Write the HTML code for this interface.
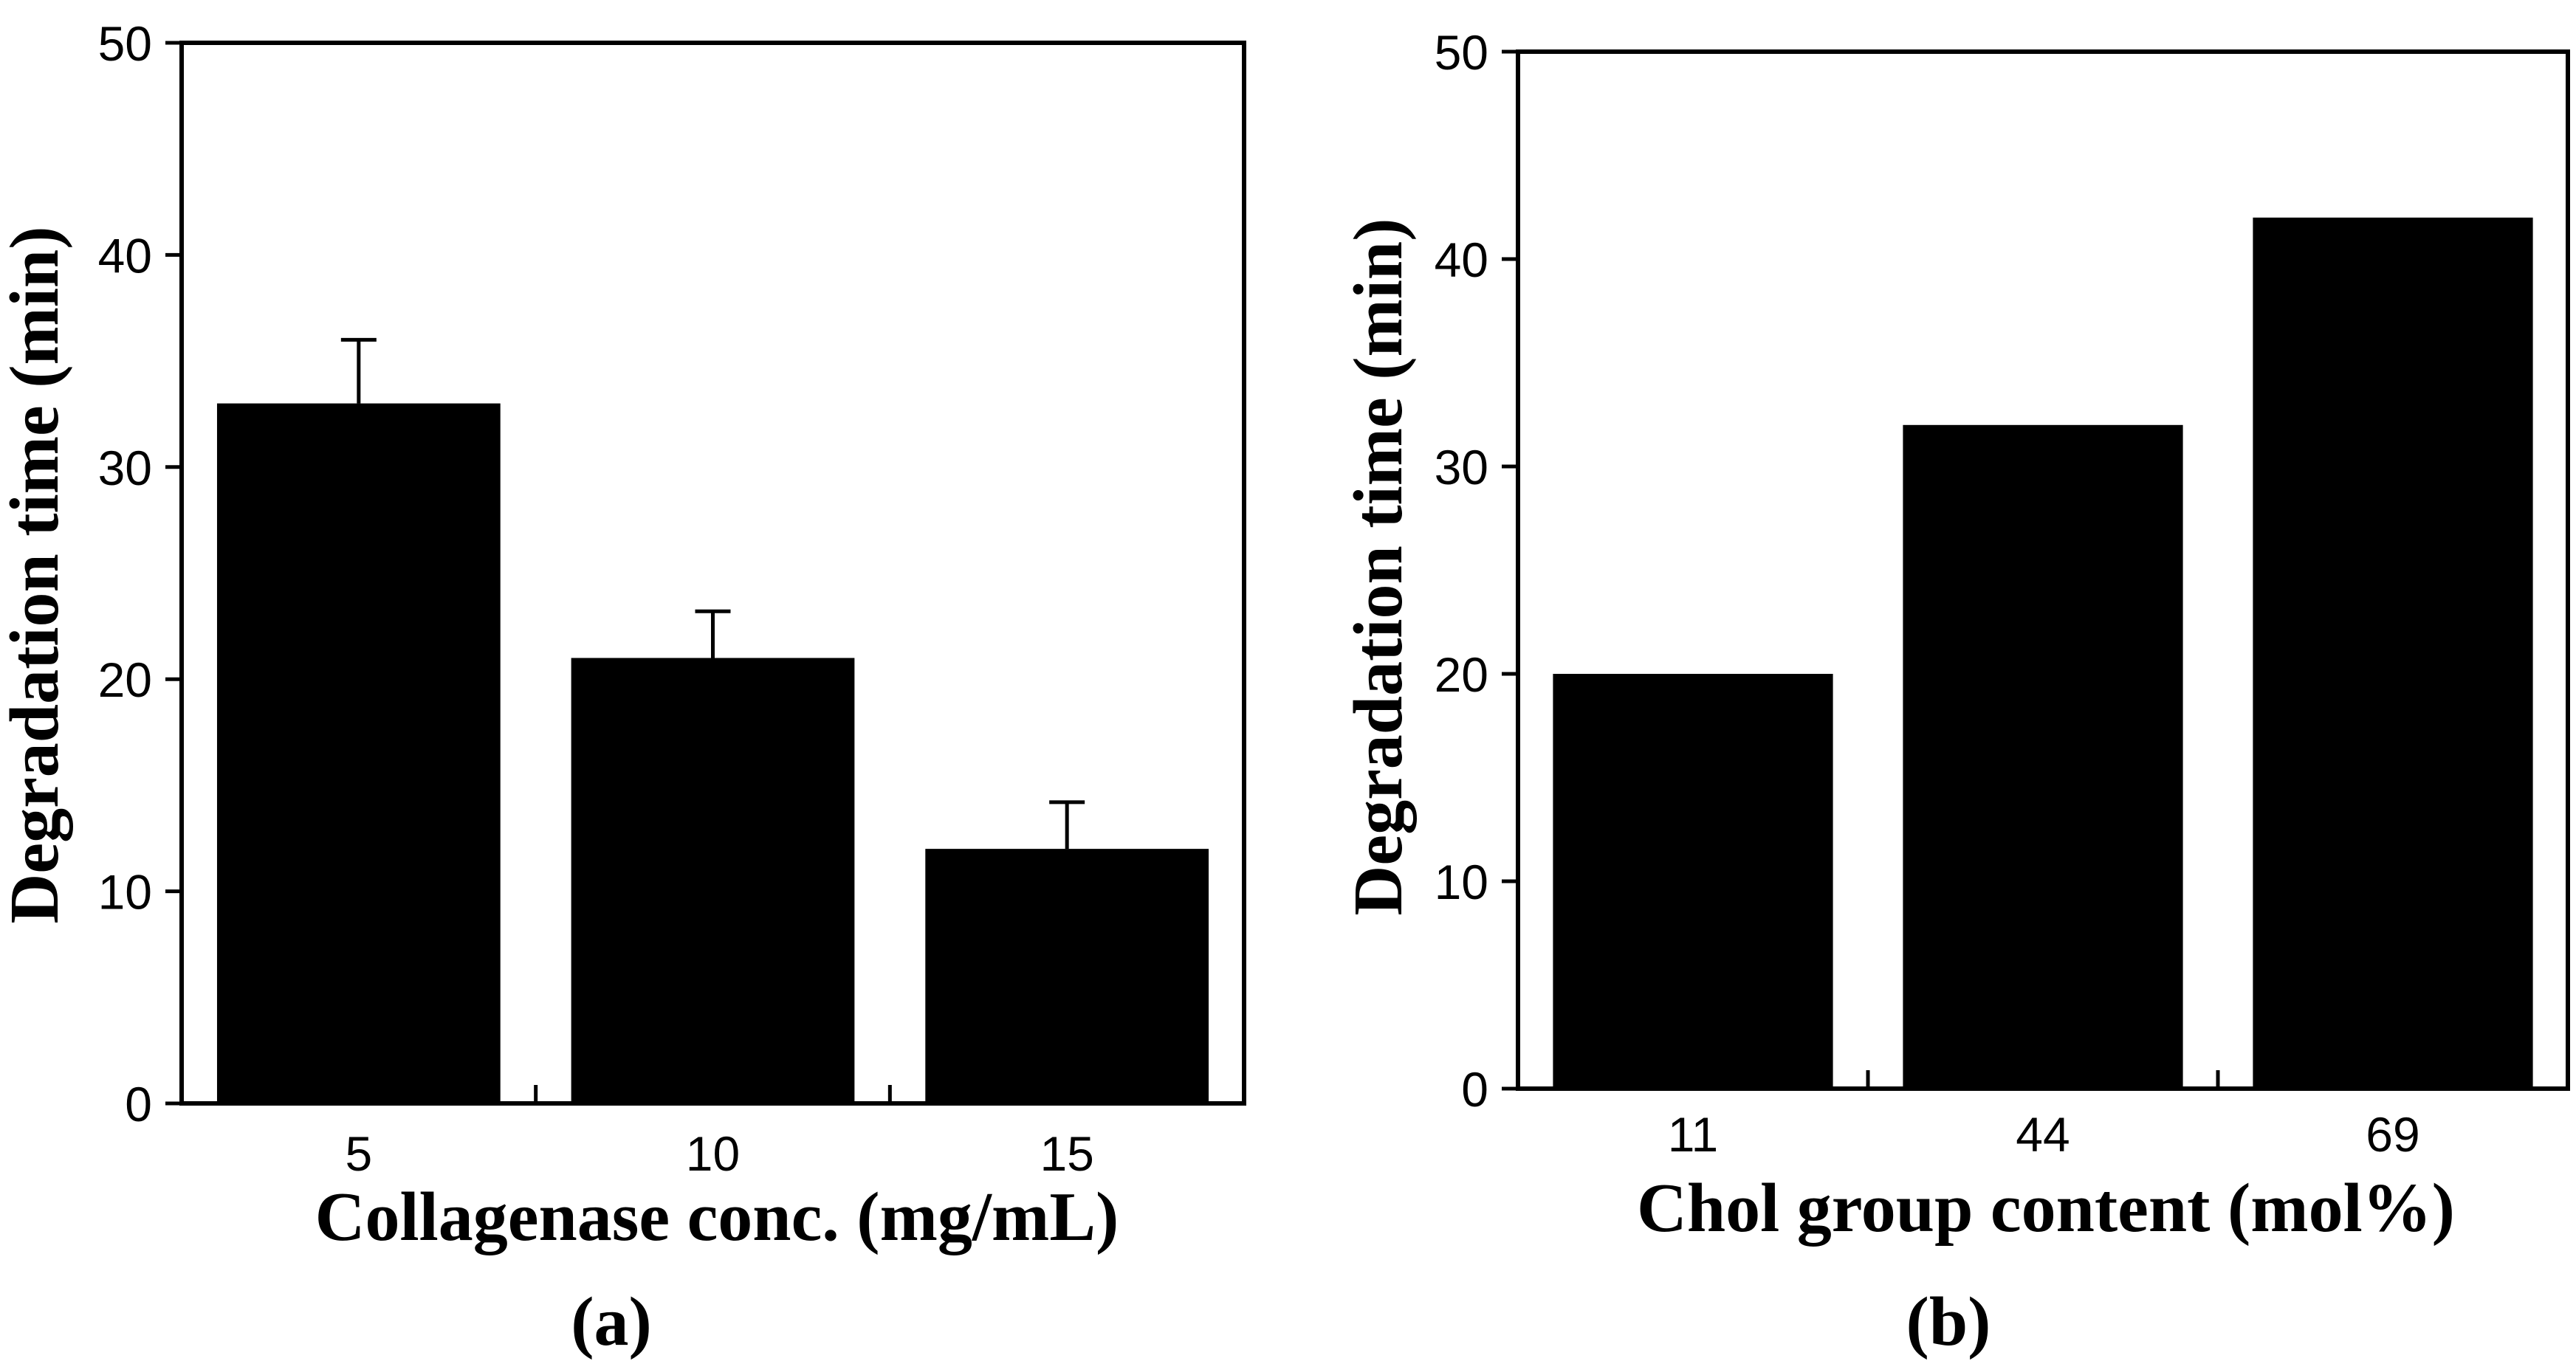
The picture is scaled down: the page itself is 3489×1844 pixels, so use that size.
<!DOCTYPE html>
<html><head><meta charset="utf-8"><style>
html,body{margin:0;padding:0;background:#fff;}
svg{display:block;}
.tick{font-family:"Liberation Sans",Arial,sans-serif;font-size:66px;fill:#000;}
.ttl{font-family:"Liberation Serif","Times New Roman",serif;font-weight:bold;font-size:94px;fill:#000;}
</style></head><body>
<svg id="fig" width="3489" height="1844" viewBox="0 0 3489 1844" xmlns="http://www.w3.org/2000/svg"></svg>
<script>
const catsA = ["5", "10", "15"];
const valsA = [33, 21, 12];
const errsA = [3, 2.2, 2.2];
const catsB = ["11", "44", "69"];
const valsB = [20, 32, 42];
const yTicks = [0, 10, 20, 30, 40, 50];
const NS = "http://www.w3.org/2000/svg";
const svg = document.getElementById("fig");
function mk(tag, attrs, parent, text){
  const e = document.createElementNS(NS, tag);
  for (const k in attrs) e.setAttribute(k, attrs[k]);
  if (text !== undefined) e.textContent = text;
  (parent || svg).appendChild(e);
  return e;
}
function panel(p){
  const g = mk("g", {});
  
  
  const y = v => p.bottom - (p.bottom - p.top) * v / 50;
  const cw = (p.right - p.left) / p.cats.length;
  const cx = i => p.left + cw * (i + 0.5);
  const bw = cw * 0.8;
  p.vals.forEach((v, i) => {
    const r = mk("rect", {x: cx(i) - bw/2, y: y(v), width: bw, height: p.bottom - y(v), fill: "#000"}, g);
    
    
    if (p.errs) {
      const e = mk("path", {d: `M${cx(i)} ${y(v)} V${y(v + p.errs[i])} M${cx(i)-24} ${y(v + p.errs[i])} H${cx(i)+24}`, stroke: "#000", "stroke-width": 5, fill: "none"}, g);
      
      
    }
    const t = mk("text", {x: cx(i), y: p.xLabY, "text-anchor": "middle", class: "tick"}, g, p.cats[i]);
    
    
  });
  for (let i = 1; i < p.cats.length; i++) {
    const x = p.left + cw * i;
    mk("line", {x1: x, x2: x, y1: p.bottom, y2: p.bottom - 25, stroke: "#000", "stroke-width": 5}, g);
  }
  yTicks.forEach(v => {
    mk("line", {x1: p.left - 22, x2: p.left, y1: y(v), y2: y(v), stroke: "#000", "stroke-width": 5}, g);
    const t = mk("text", {x: p.left - 40, y: y(v) + 24, "text-anchor": "end", class: "tick"}, g, String(v));
    
    
  });
  const f = mk("rect", {x: p.left, y: p.top, width: p.right - p.left, height: p.bottom - p.top, fill: "none", stroke: "#000", "stroke-width": 6}, g);
  
  
  const yl = mk("text", {x: 0, y: 0, "text-anchor": "middle", class: "ttl", transform: `translate(${p.yTitleX},${p.yTitleC}) rotate(-90)`}, g, "Degradation time (min)");
  
  
  const xl = mk("text", {x: p.xTitleX, y: p.xTitleY, "text-anchor": "middle", class: "ttl"}, g, p.xTitle);
  
  
  const pl = mk("text", {x: p.capX, y: 1822, "text-anchor": "middle", class: "ttl"}, g, p.cap);
  
  
}
panel({name: "panel-a", left: 246, right: 1685, top: 58, bottom: 1495, cats: catsA, vals: valsA, errs: errsA,
  xLabY: 1586, yTitleX: 78, yTitleC: 779, xTitle: "Collagenase conc. (mg/mL)", xTitleX: 971, xTitleY: 1680, cap: "(a)", capX: 828});
panel({name: "panel-b", left: 2056, right: 3478, top: 70, bottom: 1475, cats: catsB, vals: valsB,
  xLabY: 1560, yTitleX: 1898, yTitleC: 768, xTitle: "Chol group content (mol%)", xTitleX: 2771, xTitleY: 1668, cap: "(b)", capX: 2639});
</script>
</body></html>
